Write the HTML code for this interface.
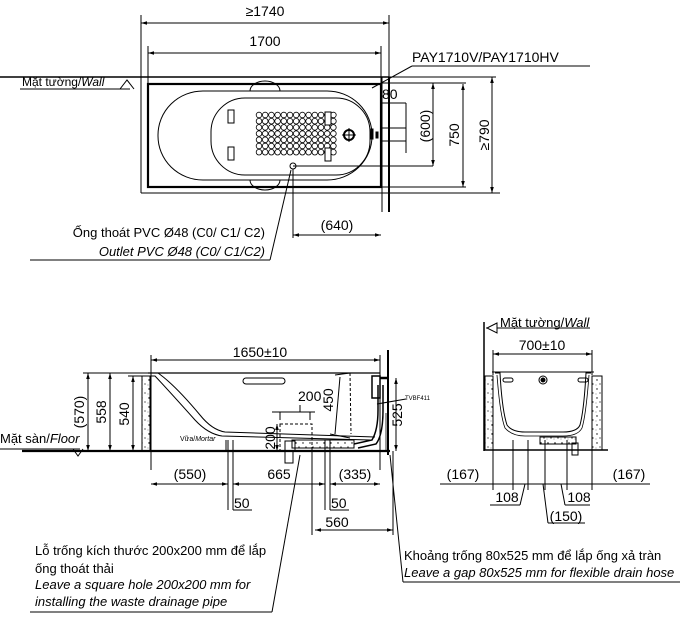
<!DOCTYPE html>
<html><head><meta charset="utf-8"><style>
html,body{margin:0;padding:0;background:#fff}
svg{display:block}
text{font-family:"Liberation Sans",sans-serif;fill:#000}
</style></head><body>
<svg width="689" height="628" viewBox="0 0 689 628" xmlns="http://www.w3.org/2000/svg">
<defs>
<marker id="a" viewBox="0 0 10 10" refX="10" refY="5" markerWidth="6" markerHeight="6" orient="auto-start-reverse"><path d="M0,2 L10,5 L0,8z" fill="#000"/></marker>
<pattern id="sp" width="7" height="9" patternUnits="userSpaceOnUse"><circle cx="2" cy="2" r=".7" fill="#000"/><circle cx="5" cy="6" r=".6" fill="#000"/><circle cx="1" cy="7" r=".4" fill="#000"/></pattern>
<g id="row" stroke="#000" fill="none" stroke-width=".8">
<circle cx="259" cy="0" r="2.8"/><circle cx="265.2" cy="0" r="2.8"/><circle cx="271.4" cy="0" r="2.8"/><circle cx="277.6" cy="0" r="2.8"/><circle cx="283.8" cy="0" r="2.8"/><circle cx="290" cy="0" r="2.8"/><circle cx="296.2" cy="0" r="2.8"/><circle cx="302.4" cy="0" r="2.8"/><circle cx="308.6" cy="0" r="2.8"/><circle cx="314.8" cy="0" r="2.8"/><circle cx="321" cy="0" r="2.8"/><circle cx="327.2" cy="0" r="2.8"/><circle cx="333.4" cy="0" r="2.8"/>
</g>
</defs>
<g stroke="#000" fill="none" stroke-width="1">
<!-- TOP VIEW -->
<line x1="141" y1="23" x2="389" y2="23" marker-start="url(#a)" marker-end="url(#a)"/>
<line x1="141" y1="15" x2="141" y2="193"/>
<line x1="389" y1="15" x2="389" y2="77"/>
<line x1="148" y1="53" x2="381" y2="53" marker-start="url(#a)" marker-end="url(#a)"/>
<line x1="148" y1="46" x2="148" y2="83"/>
<line x1="381" y1="46" x2="381" y2="83"/>
<line x1="0" y1="77" x2="389" y2="77" stroke-width="1.5"/>
<line x1="20" y1="89" x2="130" y2="89"/>
<path d="M120,89 L127,80 L134,89" />
<line x1="141" y1="193" x2="500" y2="193"/>
<rect x="148" y="84" width="233" height="103" stroke-width="2.2"/>
<line x1="389" y1="77" x2="389" y2="212" stroke-width="2"/>
<line x1="382" y1="77" x2="382" y2="212" stroke-width="1"/>
<rect x="158" y="91" width="214" height="89" rx="45" ry="44"/>
<rect x="211" y="98" width="159" height="77" rx="34" ry="34"/>
<path d="M250,91 A15,10 0 0 1 280,91"/>
<path d="M250,180 A15,10 0 0 0 280,180"/>
<rect x="228" y="110" width="6" height="13"/>
<rect x="228" y="147" width="6" height="13"/>
<use href="#row" y="115"/><use href="#row" y="121.2"/><use href="#row" y="127.4"/><use href="#row" y="133.6"/><use href="#row" y="139.8"/><use href="#row" y="146"/><use href="#row" y="152.2"/>
<rect x="325" y="112" width="6" height="13" fill="#fff"/>
<rect x="325" y="148" width="6" height="13" fill="#fff"/>
<circle cx="349" cy="135" r="5" stroke-width="2"/>
<line x1="342" y1="135" x2="356" y2="135"/><line x1="349" y1="128" x2="349" y2="142"/>
<rect x="371" y="129" width="2" height="10" fill="#000"/>
<rect x="376" y="132" width="2" height="6" fill="#000"/>
<circle cx="293" cy="166" r="3"/>
<line x1="293" y1="166" x2="433" y2="166"/>
<line x1="293" y1="169" x2="293" y2="238"/>
<line x1="293" y1="235" x2="381" y2="235" marker-start="url(#a)" marker-end="url(#a)"/>
<line x1="291" y1="170" x2="270" y2="260"/>
<line x1="30" y1="260" x2="270" y2="260"/>
<line x1="381" y1="103" x2="406" y2="103"/>
<line x1="406" y1="103" x2="406" y2="153"/>
<line x1="381" y1="128" x2="406" y2="128"/>
<line x1="381" y1="141" x2="406" y2="141"/>
<line x1="381" y1="83" x2="466" y2="83"/>
<line x1="433" y1="83" x2="433" y2="166" marker-start="url(#a)" marker-end="url(#a)"/>
<line x1="463" y1="84" x2="463" y2="187" marker-start="url(#a)" marker-end="url(#a)"/>
<line x1="381" y1="187" x2="466" y2="187"/>
<line x1="389" y1="77" x2="496" y2="77"/>
<line x1="492" y1="77" x2="492" y2="193" marker-start="url(#a)" marker-end="url(#a)"/>
<line x1="372" y1="88" x2="412" y2="66"/>
<line x1="412" y1="66" x2="590" y2="66"/>
<!-- SIDE VIEW -->
<line x1="22" y1="451" x2="390" y2="451" stroke-width="2.2"/>
<line x1="0" y1="449" x2="80" y2="449"/>
<path d="M73,449 L78,456 L83,449"/>
<line x1="151" y1="360" x2="380" y2="360" marker-start="url(#a)" marker-end="url(#a)"/>
<line x1="151" y1="355" x2="151" y2="470"/>
<line x1="380" y1="355" x2="380" y2="470"/>
<line x1="388" y1="350" x2="388" y2="455" stroke-width="2"/>
<line x1="83" y1="373" x2="150" y2="373"/>
<line x1="88" y1="373" x2="88" y2="451" marker-start="url(#a)" marker-end="url(#a)"/>
<line x1="110" y1="373" x2="110" y2="451" marker-start="url(#a)" marker-end="url(#a)"/>
<line x1="128" y1="376" x2="143" y2="376"/>
<line x1="133" y1="376" x2="133" y2="451" marker-start="url(#a)" marker-end="url(#a)"/>
<rect x="142" y="376" width="8" height="75" fill="url(#sp)"/>
<path d="M148,373 L380,373" stroke-width="1.2"/>
<path d="M150,373 L158,373 Q175,385 200,415 Q212,430 225,432 L375,437"/>
<path d="M150,376 L155,376 Q170,392 195,420 Q208,434 222,436 L370,440"/>
<rect x="243" y="378" width="42" height="6" rx="3"/>
<line x1="226" y1="440" x2="226" y2="451"/>
<rect x="292" y="440" width="62" height="8" fill="url(#sp)"/>
<rect x="285" y="441" width="10" height="10"/>
<rect x="285" y="451" width="8" height="12"/>
<path d="M354,444 L372,440 Q378,430 378,410 L378,385" stroke-width="1.5"/>
<path d="M358,448 L376,444 Q383,435 383,410 L383,385" stroke-width="1.5"/>
<rect x="372" y="376" width="8" height="22" stroke-width="1.5"/>
<line x1="380" y1="378" x2="388" y2="378" stroke-width="2.5"/>
<line x1="340" y1="377" x2="335" y2="434"/>
<line x1="335" y1="375" x2="350" y2="373"/>
<line x1="350" y1="373" x2="351" y2="434" stroke-dasharray="3,2"/>
<line x1="330" y1="434" x2="350" y2="438"/>
<line x1="300" y1="405" x2="300" y2="412"/>
<line x1="272" y1="412" x2="315" y2="412" />
<line x1="280" y1="412" x2="280" y2="420"/><line x1="310" y1="412" x2="310" y2="420"/>
<rect x="280" y="424" width="32" height="27" stroke-dasharray="3,2"/>
<line x1="277" y1="424" x2="277" y2="451" marker-start="url(#a)" marker-end="url(#a)"/>
<line x1="396" y1="378" x2="396" y2="451" marker-start="url(#a)" marker-end="url(#a)"/>
<line x1="377" y1="404" x2="406" y2="399"/>
<line x1="386" y1="413" x2="386" y2="451" stroke-width=".8"/>
<line x1="151" y1="484" x2="228" y2="484" marker-start="url(#a)" marker-end="url(#a)"/>
<line x1="233" y1="484" x2="325" y2="484" marker-start="url(#a)" marker-end="url(#a)"/>
<line x1="330" y1="484" x2="380" y2="484" marker-start="url(#a)" marker-end="url(#a)"/>
<line x1="228" y1="440" x2="228" y2="510"/>
<line x1="233" y1="440" x2="233" y2="510"/>
<line x1="325" y1="440" x2="325" y2="510"/>
<line x1="330" y1="440" x2="330" y2="510"/>
<line x1="233" y1="510" x2="252" y2="510"/>
<line x1="330" y1="510" x2="349" y2="510"/>
<line x1="312" y1="451" x2="312" y2="535"/>
<line x1="393" y1="451" x2="393" y2="535"/>
<line x1="315" y1="530" x2="393" y2="530" marker-start="url(#a)" marker-end="url(#a)"/>
<line x1="300" y1="455" x2="272" y2="612"/>
<line x1="30" y1="612" x2="272" y2="612"/>
<line x1="390" y1="455" x2="403" y2="582"/>
<line x1="403" y1="582" x2="680" y2="582"/>
<!-- END VIEW -->
<line x1="484" y1="322" x2="484" y2="451" stroke-width="1.5"/>
<line x1="486" y1="328" x2="590" y2="328"/>
<path d="M497,323 L487,328 L497,333z" fill="#fff"/>
<line x1="493" y1="354" x2="592" y2="354" marker-start="url(#a)" marker-end="url(#a)"/>
<line x1="493" y1="350" x2="493" y2="375"/>
<line x1="592" y1="350" x2="592" y2="375"/>
<line x1="492" y1="372" x2="594" y2="372"/>
<rect x="485" y="376" width="8" height="74" fill="url(#sp)"/>
<rect x="592" y="376" width="10" height="74" fill="url(#sp)"/>
<line x1="484" y1="450" x2="608" y2="450" stroke-width="1.5"/>
<path d="M495,373 L500,373 Q502,410 507,425 Q512,432 525,432 L563,432 Q577,432 580,425 Q584,410 586,373 L591,373"/>
<path d="M497,375 Q500,415 505,428 Q512,436 525,436 L563,436 Q578,436 582,428 Q586,415 589,375" stroke-width=".8"/>
<rect x="503" y="378" width="10" height="4" rx="2"/>
<rect x="578" y="378" width="10" height="4" rx="2"/>
<circle cx="543" cy="380" r="4"/><circle cx="543" cy="380" r="2" fill="#000"/>
<rect x="540" y="437" width="36" height="7" fill="url(#sp)"/>
<rect x="572" y="443" width="6" height="12"/>
<line x1="440" y1="484" x2="650" y2="484"/>
<line x1="493" y1="440" x2="493" y2="490"/>
<line x1="513" y1="440" x2="513" y2="490"/>
<line x1="528" y1="440" x2="528" y2="490"/>
<line x1="545" y1="440" x2="545" y2="490"/>
<line x1="567" y1="440" x2="567" y2="490"/>
<line x1="592" y1="440" x2="592" y2="490"/>
<line x1="525" y1="484" x2="520" y2="505"/>
<line x1="490" y1="505" x2="520" y2="505"/>
<line x1="561" y1="484" x2="565" y2="505"/>
<line x1="565" y1="505" x2="590" y2="505"/>
<line x1="543" y1="484" x2="548" y2="523"/>
<line x1="548" y1="523" x2="585" y2="523"/>
</g>
<g font-size="14">
<text x="265" y="16" text-anchor="middle">≥1740</text>
<text x="265" y="46" text-anchor="middle">1700</text>
<text x="22" y="86" font-size="12">Mặt tường/<tspan font-style="italic">Wall</tspan></text>
<text x="412" y="62">PAY1710V/PAY1710HV</text>
<text x="382" y="99">80</text>
<text transform="translate(430,126) rotate(-90)" text-anchor="middle">(600)</text>
<text transform="translate(459,135) rotate(-90)" text-anchor="middle">750</text>
<text transform="translate(489,135) rotate(-90)" text-anchor="middle">≥790</text>
<text x="337" y="230" text-anchor="middle">(640)</text>
<text x="265" y="237" text-anchor="end" font-size="13">Ống thoát PVC Ø48 (C0/ C1/ C2)</text>
<text x="265" y="256" text-anchor="end" font-style="italic" font-size="13">Outlet PVC Ø48 (C0/ C1/C2)</text>
<text x="260" y="357" text-anchor="middle">1650±10</text>
<text x="0" y="443" font-size="13">Mặt sàn/<tspan font-style="italic">Floor</tspan></text>
<text transform="translate(84,412) rotate(-90)" text-anchor="middle">(570)</text>
<text transform="translate(106,412) rotate(-90)" text-anchor="middle">558</text>
<text transform="translate(129,414) rotate(-90)" text-anchor="middle">540</text>
<text x="180" y="441" font-size="7">Vữa/<tspan font-style="italic">Mortar</tspan></text>
<text x="298" y="401">200</text>
<text transform="translate(333,400) rotate(-90)" text-anchor="middle">450</text>
<text transform="translate(275,438) rotate(-90)" text-anchor="middle">200</text>
<text transform="translate(402,415) rotate(-90)" text-anchor="middle">525</text>
<text x="405" y="400" font-size="6">TVBF411</text>
<text x="190" y="479" text-anchor="middle">(550)</text>
<text x="279" y="479" text-anchor="middle">665</text>
<text x="355" y="479" text-anchor="middle">(335)</text>
<text x="234" y="508">50</text>
<text x="331" y="508">50</text>
<text x="337" y="527" text-anchor="middle">560</text>
<text x="500" y="327" font-size="13">Mặt tường/<tspan font-style="italic">Wall</tspan></text>
<text x="542" y="350" text-anchor="middle">700±10</text>
<text x="463" y="479" text-anchor="middle">(167)</text>
<text x="629" y="479" text-anchor="middle">(167)</text>
<text x="507" y="502" text-anchor="middle">108</text>
<text x="579" y="502" text-anchor="middle">108</text>
<text x="566" y="521" text-anchor="middle">(150)</text>
</g>
<g font-size="13">
<text x="35" y="555">Lỗ trống kích thước 200x200 mm để lắp</text>
<text x="35" y="573">ống thoát thải</text>
<text x="35" y="589" font-style="italic">Leave a square hole  200x200 mm for</text>
<text x="35" y="606" font-style="italic">installing the waste drainage pipe</text>
<text x="404" y="560">Khoảng trống 80x525 mm để lắp ống xả tràn</text>
<text x="404" y="577" font-style="italic">Leave a gap 80x525 mm for flexible drain hose</text>
</g>
</svg>
</body></html>
